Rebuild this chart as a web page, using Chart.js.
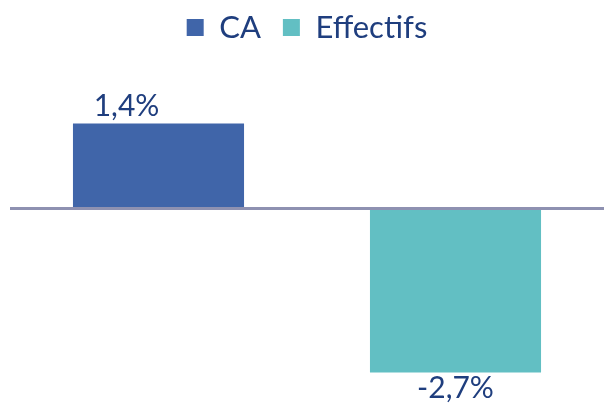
<!DOCTYPE html>
<html>
<head>
<meta charset="utf-8">
<script src="https://cdn.jsdelivr.net/npm/chart.js@4"></script>
<style>
  html, body { margin: 0; padding: 0; background: #fff; }
  #wrap { width: 604px; height: 403px; }
</style>
</head>
<body>
<div id="wrap"><canvas id="myChart"></canvas></div>
<script>
const categories = ['', ''];
const seriesNames = ['CA', 'Effectifs'];
const caValues = [1.4, null];
const effectifsValues = [null, -2.7];
const barColors = ['#4065A9', '#62BFC3'];
const textColor = '#1F3E7E';

// pourcentage a la francaise : 1,4%
function fmt(v) {
  return v.toFixed(1).replace('.', ',') + '%';
}

const valueLabels = {
  id: 'valueLabels',
  afterDatasetsDraw(chart, args, opts) {
    const ctx = chart.ctx;
    ctx.save();
    ctx.font = '30px Lato';
    ctx.fillStyle = textColor;
    ctx.textAlign = 'center';
    chart.data.datasets.forEach((ds, i) => {
      const meta = chart.getDatasetMeta(i);
      meta.data.forEach((bar, j) => {
        const v = ds.data[j];
        if (v === null) return;
        const dx = (opts.shift && opts.shift[i]) || 0;
        if (v >= 0) {
          ctx.textBaseline = 'bottom';
          ctx.fillText(fmt(v), bar.x + dx, bar.y - 2);
        } else {
          ctx.textBaseline = 'top';
          ctx.fillText(fmt(v), bar.x + dx, bar.y + 1);
        }
      });
    });
    ctx.restore();
  }
};

const data = {
  labels: categories,
  datasets: [{
    label: seriesNames[0],
    data: caValues,
    backgroundColor: barColors[0],
    skipNull: true
  }, {
    label: seriesNames[1],
    data: effectifsValues,
    backgroundColor: barColors[1],
    skipNull: true
  }]
};

const options = {
  responsive: true,
  maintainAspectRatio: false,
  animation: false,
  layout: { padding: { left: 10, right: 0, top: -10, bottom: 0 } },
  categoryPercentage: 0.8,
  barPercentage: 0.72,
  plugins: {
    legend: {
      position: 'top',
      labels: {
        color: textColor,
        font: { size: 31, family: 'Lato' },
        boxWidth: 17,
        boxHeight: 17,
        padding: 22
      }
    },
    tooltip: { enabled: false },
    valueLabels: { shift: [-32, 0] }
  },
  scales: {
    x: { display: false },
    y: {
      min: -3.2,
      max: 2.56,
      ticks: { display: false },
      border: { display: false },
      grid: {
        drawTicks: false,
        lineWidth: 3,
        color: (c) => c.tick && c.tick.value === 0 ? '#8E91B1' : 'transparent'
      }
    }
  }
};

const config = {
  type: 'bar',
  data: data,
  options: options,
  plugins: [valueLabels]
};

let myChart = new Chart(document.querySelector('#myChart'), config);
</script>
</body>
</html>
